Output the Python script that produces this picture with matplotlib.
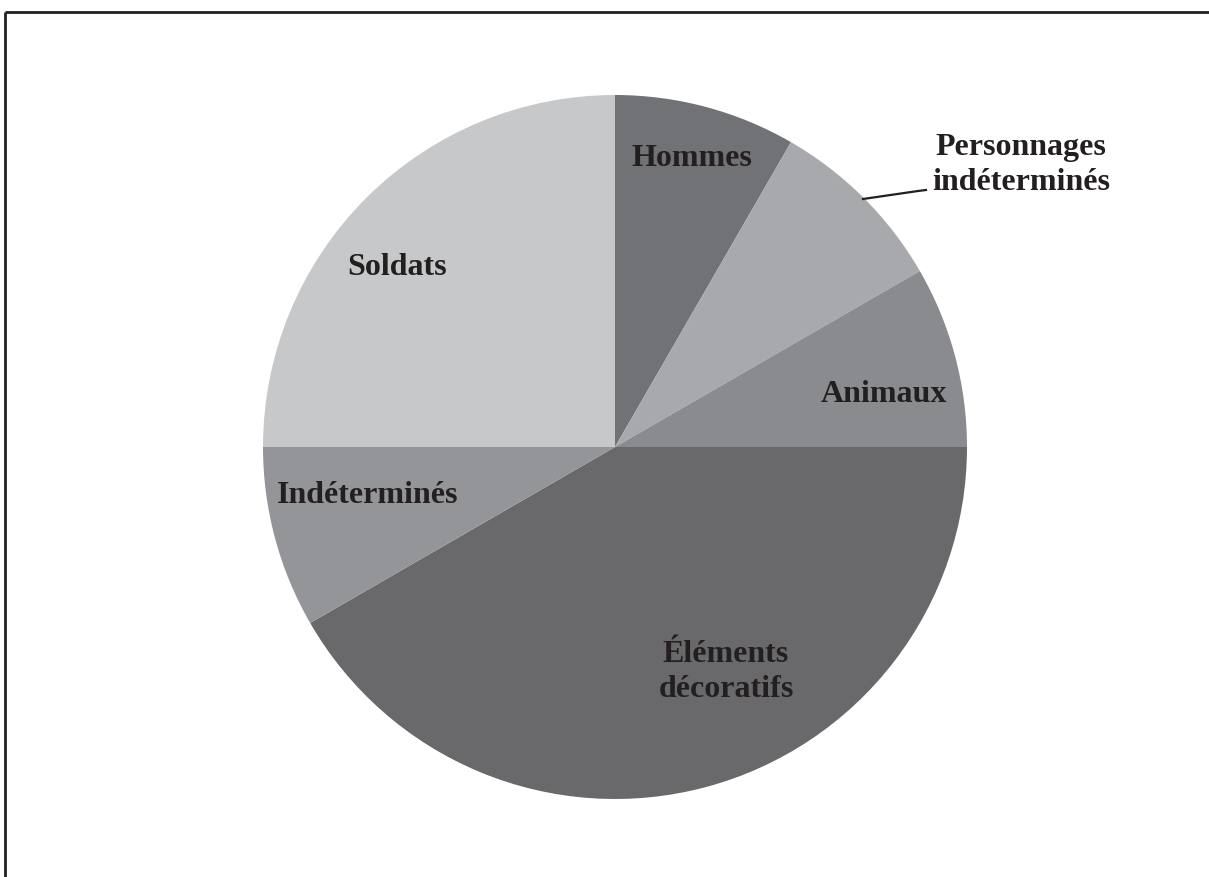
import matplotlib.pyplot as plt

labels = ["Hommes", "Personnages\nindéterminés", "Animaux", "Éléments\ndécoratifs", "Indéterminés", "Soldats"]
values = [1, 1, 1, 5, 1, 3]
colors = ["#717275", "#a8a9ac", "#8a8b8e", "#69696b", "#949598", "#c7c8ca"]
# label anchor: x centre and baseline of first line, in pixels from top-left
label_pos = [(692, 166), (1021, 155), (884, 402), (726, 662), (368, 503), (397, 275)]
line_gap = 35

W, H = 1209, 877
fig = plt.figure(figsize=(W / 100, H / 100), dpi=100)
ax = fig.add_axes([0, 0, 1, 1])

cx, cy, r = 615, H - 447, 352
ax.pie(values, colors=colors, startangle=90, counterclock=False,
       center=(cx, cy), radius=r, frame=True,
       wedgeprops=dict(linewidth=0))
ax.set_xlim(0, W)
ax.set_ylim(0, H)
ax.set_aspect("auto")
ax.axis("off")

for lab, (x, y) in zip(labels, label_pos):
    for i, line in enumerate(lab.split("\n")):
        ax.text(x, H - (y + i * line_gap), line, ha="center", va="baseline",
                fontsize=23, fontweight="bold", family="Liberation Serif",
                color="#231f20")

# leader line for Personnages indéterminés
ax.plot([863, 918, 926], [H - 199, H - 191, H - 190], color="#231f20", lw=1.6)

# frame (top and left only)
ax.plot([4.5, W], [H - 12, H - 12], color="#231f20", lw=2, solid_capstyle="butt")
ax.plot([4.5, 4.5], [H - 12, 0], color="#231f20", lw=2, solid_capstyle="butt")

fig.savefig("out.png", dpi=100)
